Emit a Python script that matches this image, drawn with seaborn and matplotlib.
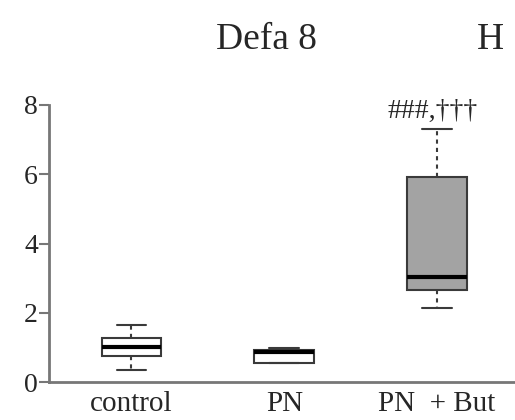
import numpy as np
import matplotlib
matplotlib.use("Agg")
import matplotlib.pyplot as plt
import seaborn as sns
import pandas as pd

# group labels and the five values read per box: min, q1, median, q3, max
groups = ['control', 'PN', 'PN  + But']
control_vals = [0.35, 0.75, 1.01, 1.27, 1.65]
pn_vals = [0.54, 0.56, 0.86, 0.92, 0.98]
pn_but_vals = [2.14, 2.66, 3.03, 5.92, 7.31]
box_colors = ['white', 'white', '#a3a3a3']
yticks = [0, 2, 4, 6, 8]
annotation = '###,\u2020\u2020\u2020'

df = pd.DataFrame({
    'group': np.repeat(groups, 5),
    'value': control_vals + pn_vals + pn_but_vals,
})

sns.set_style('white')
plt.rcParams['font.family'] = ['Liberation Serif', 'DejaVu Serif']

fig = plt.figure(figsize=(5.15, 4.2), dpi=100)
ax = fig.add_axes([0.095, 0.09, 0.905, 0.66])

sns.boxplot(data=df, x='group', y='value', hue='group', palette=box_colors,
            legend=False, width=0.39, whis=(0, 100), linecolor='#3a3a3a',
            linewidth=1.5, saturation=1, ax=ax,
            medianprops=dict(color='black', linewidth=3),
            whiskerprops=dict(linestyle=(0, (2, 2))))

ax.set_ylim(0, 8)
ax.set_xlim(-0.54, 2.51)
ax.set_yticks(yticks)
ax.set_xlabel('')
ax.set_ylabel('')
for side in ['top', 'right']:
    ax.spines[side].set_visible(False)
for side in ['left', 'bottom']:
    ax.spines[side].set_color('#777777')
    ax.spines[side].set_linewidth(2)
ax.tick_params(axis='y', left=True, length=7, width=1.5, color='#777777',
               labelsize=20, pad=1)
ax.tick_params(axis='x', bottom=False, labelsize=21, pad=3)

ax.text(1.97, 7.45, annotation, ha='center', va='bottom', fontsize=20,
        clip_on=False)

fig.text(0.517, 0.905, 'Defa 8', ha='center', va='center', fontsize=27)
fig.text(0.953, 0.905, 'H', ha='center', va='center', fontsize=27)

fig.savefig('out.png', dpi=100)
